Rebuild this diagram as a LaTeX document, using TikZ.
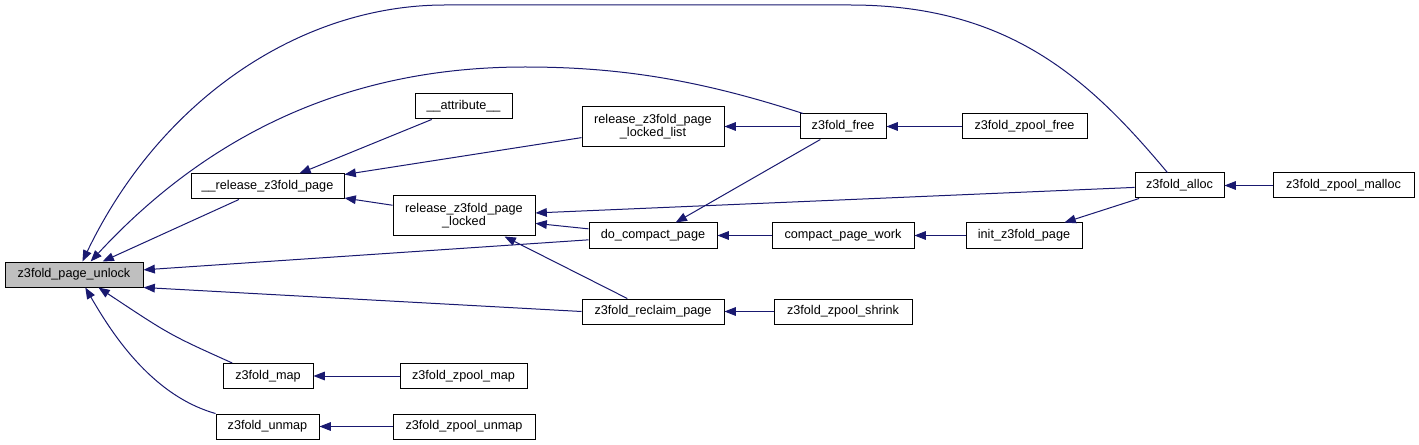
\documentclass[tikz,border=0pt]{standalone}
\usepackage{fontspec}
\setmainfont{Liberation Sans}
\usetikzlibrary{arrows.meta}

\definecolor{callblue}{HTML}{191970}
\definecolor{rootgray}{HTML}{BFBFBF}

\begin{document}
\begin{tikzpicture}[
    x=0.75pt, y=-0.75pt,
    >={Triangle[length=8.5pt,width=6.5pt]},
    fn/.style={
        rectangle,
        draw=black,
        line width=0.75pt,
        fill=white,
        minimum width=#1*0.75pt,
        minimum height=18.75pt,
        inner sep=0pt,
        font=\fontsize{9.5}{10}\selectfont,
        align=center
    },
    call/.style={
        ->,
        draw=callblue,
        line width=0.75pt
    }
]

% ---- Canvas ----
\path[fill=white] (0,0) rectangle (1419,445);
\useasboundingbox (0,0) rectangle (1419,445);

% ---- The function under study (left) ----
\node[fn=138, fill=rootgray] (unlock)   at (74,274.5)   {z3fold\_page\_unlock};

% ---- Direct callers ----
\node[fn=153]                (release)  at (267.5,186.5) {\_\_release\_z3fold\_page};
\node[fn=142, minimum height=30pt] (locked) at (464,216) {release\_z3fold\_page\\\_locked};
\node[fn=128]                (compact)  at (653,235.5)  {do\_compact\_page};
\node[fn=142]                (reclaim)  at (653,311.5)  {z3fold\_reclaim\_page};
\node[fn=90]                 (map)      at (268,376)    {z3fold\_map};
\node[fn=103]                (unmap)    at (267.5,426.5) {z3fold\_unmap};
\node[fn=86]                 (free)     at (843,126.5)  {z3fold\_free};
\node[fn=89]                 (alloc)    at (1179.5,185.5) {z3fold\_alloc};

% ---- Callers further out ----
\node[fn=97]                 (attr)     at (463.5,106.5) {\_\_attribute\_\_};
\node[fn=142, minimum height=30pt] (locklist) at (653,126.5) {release\_z3fold\_page\\\_locked\_list};
\node[fn=125]                (zfree)    at (1024.5,126.5) {z3fold\_zpool\_free};
\node[fn=142]                (pagework) at (843,235.5)  {compact\_page\_work};
\node[fn=116]                (initpage) at (1024,235.5) {init\_z3fold\_page};
\node[fn=138]                (zshrink)  at (843,311.5)  {z3fold\_zpool\_shrink};
\node[fn=141]                (zmalloc)  at (1343.5,185.5) {z3fold\_zpool\_malloc};
\node[fn=127]                (zmap)     at (463.5,376)  {z3fold\_zpool\_map};
\node[fn=142]                (zunmap)   at (464,426.5)  {z3fold\_zpool\_unmap};

% ---- Calls into z3fold_page_unlock ----
\draw[call] (alloc.133) .. controls (1090,80) and (1010,5) .. (850,5) -- (445,5)
            .. controls (300,5) and (160,100) .. (unlock.57);
\draw[call] (free.162) .. controls (700,80) and (620,67) .. (525,67)
            .. controls (400,67) and (240,100) .. (unlock.38);
\draw[call] (release) -- (unlock);
\draw[call] (compact) -- (unlock);
\draw[call] (reclaim.west) -- (unlock.south east);
\draw[call] (map.160) .. controls (170,335) .. (unlock.-28);
\draw[call] (unmap.north west) .. controls (150,395) and (110,330) .. (unlock.-49);

% ---- Calls into the release helpers ----
\draw[call] (attr) -- (release);
\draw[call] (locklist) -- (release);
\draw[call] (locked) -- (release);
\draw[call] (free) -- (locklist);
\draw[call] (alloc) -- (locked);
\draw[call] (compact) -- (locked);
\draw[call] (reclaim) -- (locked);

% ---- Remaining chains ----
\draw[call] (free) -- (compact);
\draw[call] (zfree) -- (free);
\draw[call] (pagework) -- (compact);
\draw[call] (initpage) -- (pagework);
\draw[call] (alloc) -- (initpage);
\draw[call] (zmalloc) -- (alloc);
\draw[call] (zshrink) -- (reclaim);
\draw[call] (zmap) -- (map);
\draw[call] (zunmap) -- (unmap);

\end{tikzpicture}
\end{document}
